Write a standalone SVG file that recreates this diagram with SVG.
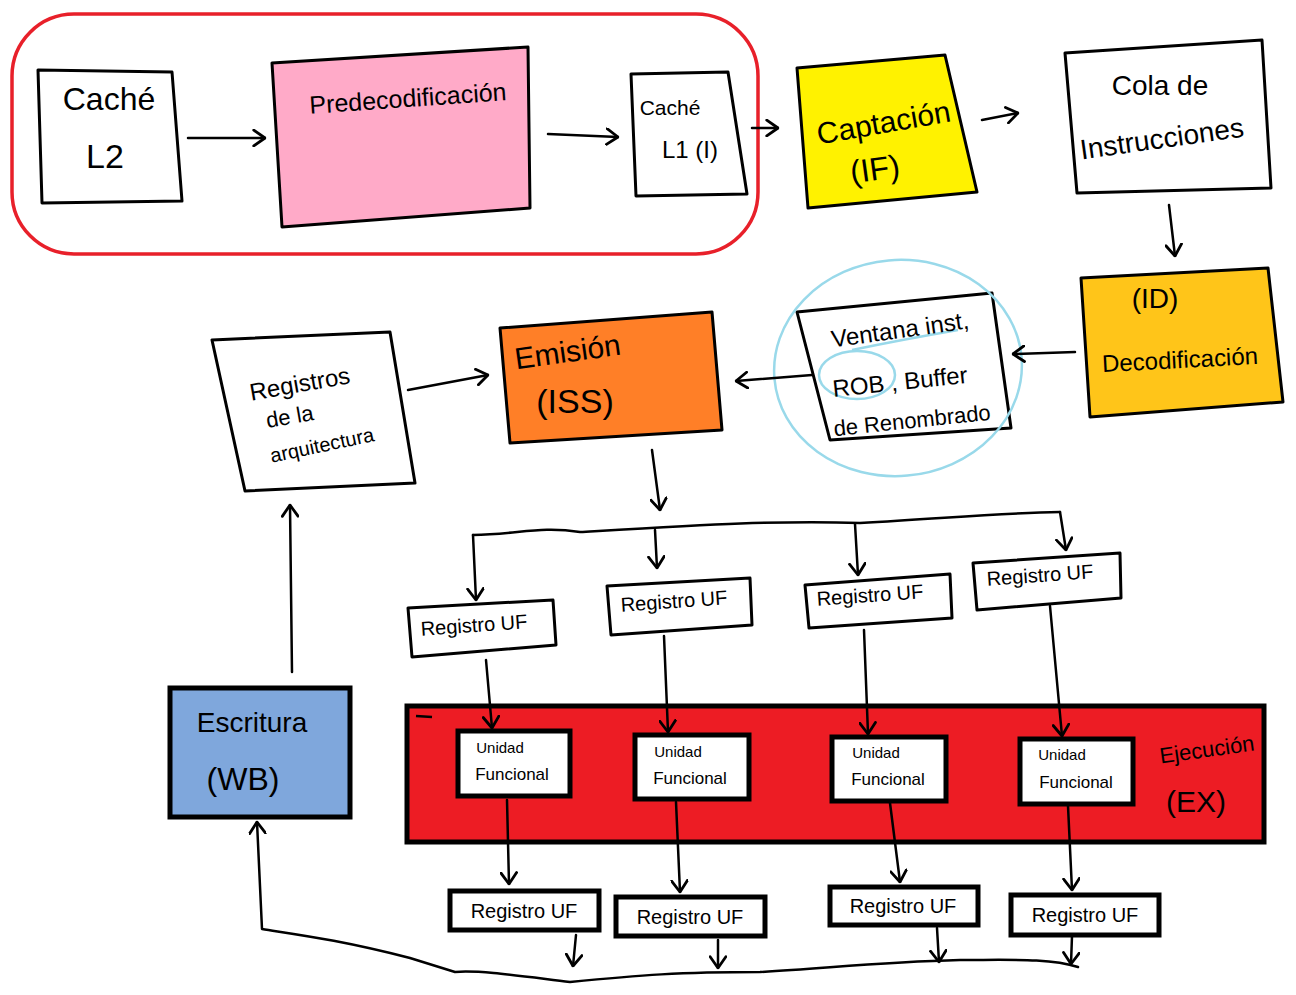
<svg xmlns="http://www.w3.org/2000/svg" width="1296" height="995" viewBox="0 0 1296 995">
<defs>
<marker id="ah" viewBox="0 0 12 16" refX="11" refY="8" markerWidth="14" markerHeight="18" markerUnits="userSpaceOnUse" orient="auto">
<path d="M1,1 L11,8 L1,15" fill="none" stroke="#000" stroke-width="2.5" stroke-linecap="round" stroke-linejoin="round"/>
</marker>
<style>
.bx{stroke:#000;stroke-width:3;stroke-linejoin:round}
.tk{stroke:#000;stroke-width:5}
.t{font-family:"Liberation Sans",Arial,sans-serif;fill:#000;text-anchor:middle}
.c{fill:none;stroke:#000;stroke-width:2.5;stroke-linecap:round;stroke-linejoin:round}
.ca{marker-end:url(#ah)}
</style>
</defs>
<rect width="1296" height="995" fill="#fff"/>

<g id="frontend-group">
<rect x="12" y="14" width="746" height="240" rx="62" ry="62" fill="none" stroke="#e8202a" stroke-width="3.5"/>
</g>

<g id="cache-l2">
<polygon class="bx" fill="#fff" points="38,70 172,72 182,201 42,203"/>
<text class="t" x="109" y="110" font-size="32">Caché</text>
<text class="t" x="105" y="168" font-size="34">L2</text>
</g>

<g id="predecodificacion">
<polygon class="bx" fill="#ffaac8" points="272,63 528,47 530,208 282,227"/>
<text class="t" x="408" y="107" font-size="25" transform="rotate(-4 408 100)">Predecodificación</text>
</g>

<g id="cache-l1">
<polygon class="bx" fill="#fff" points="631,74 728,72 747,194 636,196"/>
<text class="t" x="670" y="115" font-size="21">Caché</text>
<text class="t" x="690" y="158" font-size="24">L1 (I)</text>
</g>

<g id="captacion">
<polygon class="bx" fill="#fff200" points="797,68 945,55 977,192 808,208"/>
<text class="t" x="884" y="133" font-size="30" transform="rotate(-10 884 125)">Captación</text>
<text class="t" x="875" y="180" font-size="32" transform="rotate(-8 875 170)">(IF)</text>
</g>

<g id="cola">
<polygon class="bx" fill="#fff" points="1065,53 1262,40 1271,188 1077,193"/>
<text class="t" x="1160" y="95" font-size="28">Cola   de</text>
<text class="t" x="1162" y="148" font-size="28" transform="rotate(-8 1162 140)">Instrucciones</text>
</g>

<g id="decodificacion">
<polygon class="bx" fill="#ffc519" points="1081,278 1268,268 1283,402 1090,417"/>
<text class="t" x="1155" y="308" font-size="28">(ID)</text>
<text class="t" x="1180" y="368" font-size="24" transform="rotate(-3 1180 360)">Decodificación</text>
</g>

<g id="ventana">
<polygon class="bx" fill="#fff" points="797,312 992,293 1011,428 830,440"/>
<ellipse cx="898" cy="368" rx="124" ry="108" fill="none" stroke="#99d9ea" stroke-width="2.5" transform="rotate(-5 898 368)"/>
<ellipse cx="857" cy="375" rx="38" ry="24" fill="none" stroke="#99d9ea" stroke-width="2.5"/>
<path d="M852,350 Q900,340 958,330" fill="none" stroke="#99d9ea" stroke-width="2.5"/>
<text class="t" x="900" y="338" font-size="24" transform="rotate(-8 900 330)">Ventana inst,</text>
<text class="t" x="900" y="390" font-size="24" transform="rotate(-6 900 382)">ROB , Buffer</text>
<text class="t" x="912" y="428" font-size="22" transform="rotate(-6 912 420)">de Renombrado</text>
</g>

<g id="emision">
<polygon class="bx" fill="#ff7f27" points="500,328 712,312 722,430 510,443"/>
<text class="t" x="568" y="362" font-size="30" transform="rotate(-8 568 355)">Emisión</text>
<text class="t" x="575" y="413" font-size="34">(ISS)</text>
</g>

<g id="registros-arq">
<polygon class="bx" fill="#fff" points="212,340 390,332 415,483 245,491"/>
<text class="t" x="300" y="392" font-size="24" transform="rotate(-10 300 385)">Registros</text>
<text class="t" x="290" y="424" font-size="22" transform="rotate(-10 290 418)">de la</text>
<text class="t" x="322" y="452" font-size="20" transform="rotate(-12 322 445)">arquitectura</text>
</g>

<g id="ejecucion">
<rect class="tk" x="407" y="706" width="857" height="136" fill="#ed1c24"/>
<path d="M416,716 L432,717" stroke="#000" stroke-width="2.5"/>
<text class="t" x="1207" y="757" font-size="22" transform="rotate(-8 1207 750)">Ejecución</text>
<text class="t" x="1196" y="812" font-size="30">(EX)</text>
</g>

<g id="uf1"><rect class="tk" x="458" y="731" width="112" height="65" fill="#fff"/>
<text class="t" x="500" y="753" font-size="15">Unidad</text><text class="t" x="512" y="780" font-size="17">Funcional</text></g>
<g id="uf2"><rect class="tk" x="635" y="735" width="114" height="64" fill="#fff"/>
<text class="t" x="678" y="757" font-size="15">Unidad</text><text class="t" x="690" y="784" font-size="17">Funcional</text></g>
<g id="uf3"><rect class="tk" x="832" y="737" width="114" height="64" fill="#fff"/>
<text class="t" x="876" y="758" font-size="15">Unidad</text><text class="t" x="888" y="785" font-size="17">Funcional</text></g>
<g id="uf4"><rect class="tk" x="1020" y="739" width="113" height="65" fill="#fff"/>
<text class="t" x="1062" y="760" font-size="15">Unidad</text><text class="t" x="1076" y="788" font-size="17">Funcional</text></g>

<g id="reg-uf-top1"><polygon class="bx" fill="#fff" points="408,608 553,600 556,645 412,657"/>
<text class="t" x="474" y="632" font-size="20" transform="rotate(-4 474 626)">Registro UF</text></g>
<g id="reg-uf-top2"><polygon class="bx" fill="#fff" points="607,586 750,578 752,625 611,635"/>
<text class="t" x="674" y="608" font-size="20" transform="rotate(-4 674 602)">Registro UF</text></g>
<g id="reg-uf-top3"><polygon class="bx" fill="#fff" points="805,585 950,574 952,618 809,628"/>
<text class="t" x="870" y="602" font-size="20" transform="rotate(-4 870 596)">Registro UF</text></g>
<g id="reg-uf-top4"><polygon class="bx" fill="#fff" points="973,563 1120,553 1121,598 977,610"/>
<text class="t" x="1040" y="582" font-size="20" transform="rotate(-4 1040 576)">Registro UF</text></g>

<g id="reg-uf-bot1"><rect class="tk" x="450" y="891" width="149" height="39" fill="#fff"/>
<text class="t" x="524" y="918" font-size="20">Registro  UF</text></g>
<g id="reg-uf-bot2"><rect class="tk" x="616" y="897" width="149" height="39" fill="#fff"/>
<text class="t" x="690" y="924" font-size="20">Registro  UF</text></g>
<g id="reg-uf-bot3"><rect class="tk" x="830" y="887" width="148" height="38" fill="#fff"/>
<text class="t" x="903" y="913" font-size="20">Registro  UF</text></g>
<g id="reg-uf-bot4"><rect class="tk" x="1011" y="895" width="148" height="40" fill="#fff"/>
<text class="t" x="1085" y="922" font-size="20">Registro  UF</text></g>

<g id="escritura">
<rect class="tk" x="170" y="688" width="180" height="129" fill="#7fa7dc"/>
<text class="t" x="252" y="732" font-size="28">Escritura</text>
<text class="t" x="243" y="790" font-size="32">(WB)</text>
</g>

<g id="connectors">
<path class="c ca" d="M188,138 L265,138"/>
<path class="c ca" d="M548,134 L618,137"/>
<path class="c ca" d="M752,128 L778,128"/>
<path class="c ca" d="M982,120 L1018,113"/>
<path class="c ca" d="M1169,205 L1175,256"/>
<path class="c ca" d="M1075,352 L1013,354"/>
<path class="c ca" d="M812,375 L736,381"/>
<path class="c ca" d="M408,390 L488,375"/>
<path class="c ca" d="M652,450 L660,510"/>
<path class="c" d="M473,535 C520,534 540,526 580,532 C700,525 780,520 860,523 C950,518 1000,513 1060,512"/>
<path class="c ca" d="M473,535 L476,600"/>
<path class="c ca" d="M655,530 L657,568"/>
<path class="c ca" d="M855,524 L858,575"/>
<path class="c ca" d="M1060,512 L1066,550"/>
<path class="c ca" d="M486,660 L492,728"/>
<path class="c ca" d="M664,636 L668,732"/>
<path class="c ca" d="M864,630 L868,734"/>
<path class="c ca" d="M1050,606 L1062,736"/>
<path class="c ca" d="M507,800 L509,884"/>
<path class="c ca" d="M676,802 L680,892"/>
<path class="c ca" d="M890,803 L900,882"/>
<path class="c ca" d="M1068,806 L1072,890"/>
<path class="c ca" d="M576,935 L573,966"/>
<path class="c ca" d="M718,940 L718,968"/>
<path class="c ca" d="M937,928 L939,962"/>
<path class="c ca" d="M1072,936 L1071,964"/>
<path class="c ca" d="M1078,967 C1050,958 1010,960 960,960 C880,962 830,968 760,972 C680,972 640,975 570,982 C520,976 480,970 455,972 L410,958 C340,940 300,935 262,929 L257,822"/>
<path class="c ca" d="M292,672 L290,505"/>
</g>
</svg>
